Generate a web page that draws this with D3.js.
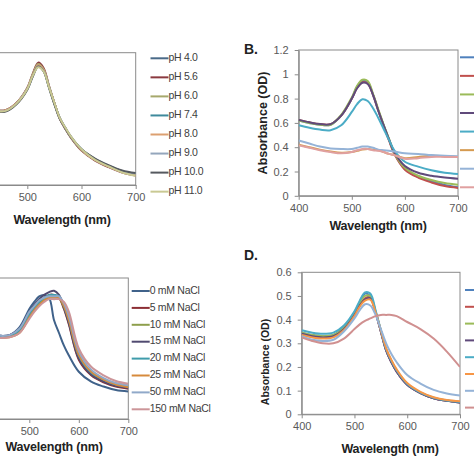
<!DOCTYPE html>
<html>
<head>
<meta charset="utf-8">
<script src="https://cdn.jsdelivr.net/npm/d3@7"></script>
<style>
  html, body { margin: 0; padding: 0; background: #fff; }
  svg { display: block; font-family: "Liberation Sans", Arial, sans-serif; }
</style>
</head>
<body>
<svg id="chart" width="474" height="474"></svg>
<script>
// wavelength grid shared by every spectrum (nm)
const wavelengths = [400, 420, 440, 460, 480, 500, 510, 520, 530, 540, 550, 560, 570, 580, 600, 625, 650, 675, 700];
const xTicks = [400, 500, 600, 700];
// left panels are cropped, their 400 nm label is outside the picture
const xTicksCropped = [500, 600, 700];

// A. pH series
const phLabels = ['pH 4.0', 'pH 5.6', 'pH 6.0', 'pH 7.4', 'pH 8.0', 'pH 9.0', 'pH 10.0', 'pH 11.0'];
const phColors = ['#4a6a88', '#8b3a40', '#a6a86c', '#3e8a9c', '#dca070', '#94a6bc', '#55595f', '#c9c993'];
const phValues = [
  [0.62, 0.59, 0.565, 0.565, 0.62, 0.73, 0.83, 0.91, 0.87, 0.745, 0.62, 0.505, 0.43, 0.365, 0.265, 0.19, 0.14, 0.10, 0.078],
  [0.62, 0.59, 0.565, 0.565, 0.62, 0.735, 0.84, 0.925, 0.885, 0.75, 0.62, 0.50, 0.425, 0.36, 0.26, 0.185, 0.135, 0.095, 0.072],
  [0.62, 0.59, 0.565, 0.56, 0.615, 0.73, 0.835, 0.915, 0.875, 0.745, 0.62, 0.505, 0.43, 0.365, 0.265, 0.19, 0.14, 0.10, 0.08],
  [0.61, 0.585, 0.56, 0.56, 0.615, 0.725, 0.825, 0.90, 0.865, 0.74, 0.615, 0.505, 0.43, 0.365, 0.27, 0.195, 0.145, 0.105, 0.085],
  [0.62, 0.59, 0.565, 0.565, 0.62, 0.73, 0.83, 0.905, 0.87, 0.745, 0.62, 0.505, 0.43, 0.365, 0.265, 0.19, 0.14, 0.10, 0.078],
  [0.615, 0.585, 0.56, 0.56, 0.615, 0.725, 0.82, 0.895, 0.86, 0.74, 0.615, 0.505, 0.435, 0.37, 0.27, 0.195, 0.145, 0.105, 0.085],
  [0.61, 0.58, 0.555, 0.555, 0.61, 0.72, 0.82, 0.895, 0.86, 0.735, 0.61, 0.50, 0.43, 0.365, 0.27, 0.20, 0.15, 0.11, 0.09],
  [0.615, 0.585, 0.56, 0.56, 0.615, 0.725, 0.825, 0.89, 0.86, 0.74, 0.62, 0.505, 0.435, 0.37, 0.27, 0.19, 0.14, 0.095, 0.07]
];

// B. unlabeled series (legend text lies outside the crop)
const bColors = ['#4f81bd', '#c0504d', '#9bbb59', '#604a7b', '#4bacc6', '#d59a50', '#95b3d7', '#e0a0a0'];
const bValues = [
  [0.62, 0.60, 0.585, 0.585, 0.66, 0.80, 0.90, 0.945, 0.935, 0.83, 0.70, 0.58, 0.465, 0.35, 0.22, 0.155, 0.12, 0.09, 0.07],
  [0.625, 0.605, 0.59, 0.59, 0.66, 0.80, 0.89, 0.935, 0.925, 0.83, 0.70, 0.575, 0.455, 0.345, 0.215, 0.15, 0.11, 0.08, 0.065],
  [0.62, 0.60, 0.585, 0.585, 0.665, 0.81, 0.905, 0.955, 0.945, 0.84, 0.71, 0.585, 0.47, 0.355, 0.23, 0.165, 0.13, 0.105, 0.09],
  [0.625, 0.605, 0.59, 0.59, 0.66, 0.80, 0.885, 0.93, 0.92, 0.83, 0.70, 0.58, 0.465, 0.36, 0.245, 0.19, 0.165, 0.15, 0.14],
  [0.58, 0.56, 0.545, 0.54, 0.58, 0.69, 0.755, 0.795, 0.78, 0.72, 0.64, 0.55, 0.46, 0.375, 0.28, 0.24, 0.21, 0.19, 0.18],
  [0.42, 0.40, 0.38, 0.365, 0.355, 0.36, 0.37, 0.38, 0.385, 0.38, 0.375, 0.36, 0.345, 0.335, 0.31, 0.32, 0.33, 0.325, 0.32],
  [0.455, 0.43, 0.405, 0.39, 0.385, 0.385, 0.395, 0.405, 0.405, 0.395, 0.38, 0.375, 0.37, 0.365, 0.35, 0.345, 0.335, 0.33, 0.325],
  [0.415, 0.395, 0.375, 0.36, 0.35, 0.36, 0.375, 0.385, 0.385, 0.375, 0.37, 0.36, 0.345, 0.335, 0.305, 0.31, 0.32, 0.32, 0.32]
];
const bYTicks = [0, 0.2, 0.4, 0.6, 0.8, 1, 1.2];

// C. NaCl series
const naclLabels = ['0 mM NaCl', '5 mM NaCl', '10 mM NaCl', '15 mM NaCl', '20 mM NaCl', '25 mM NaCl', '50 mM NaCl', '150 mM NaCl'];
const naclColors = ['#40628a', '#8c2e34', '#8e9f4c', '#504a70', '#3f9cab', '#d68a3c', '#90a9c9', '#cc9599'];
const naclValues = [
  [0.62, 0.60, 0.59, 0.595, 0.65, 0.78, 0.83, 0.87, 0.88, 0.86, 0.70, 0.61, 0.52, 0.45, 0.335, 0.265, 0.23, 0.205, 0.195],
  [0.60, 0.59, 0.58, 0.59, 0.63, 0.74, 0.79, 0.83, 0.86, 0.88, 0.88, 0.86, 0.78, 0.67, 0.42, 0.31, 0.26, 0.23, 0.215],
  [0.60, 0.59, 0.58, 0.585, 0.62, 0.73, 0.78, 0.82, 0.85, 0.87, 0.87, 0.86, 0.79, 0.69, 0.44, 0.32, 0.27, 0.24, 0.23],
  [0.61, 0.60, 0.59, 0.595, 0.64, 0.76, 0.81, 0.85, 0.88, 0.90, 0.91, 0.88, 0.79, 0.68, 0.43, 0.315, 0.265, 0.235, 0.22],
  [0.60, 0.59, 0.58, 0.59, 0.63, 0.74, 0.79, 0.83, 0.86, 0.88, 0.88, 0.87, 0.80, 0.70, 0.45, 0.33, 0.28, 0.245, 0.235],
  [0.59, 0.58, 0.575, 0.58, 0.61, 0.72, 0.77, 0.81, 0.84, 0.86, 0.86, 0.86, 0.80, 0.70, 0.455, 0.335, 0.28, 0.245, 0.225],
  [0.61, 0.60, 0.59, 0.595, 0.64, 0.76, 0.80, 0.84, 0.86, 0.87, 0.87, 0.87, 0.82, 0.73, 0.48, 0.35, 0.29, 0.255, 0.24],
  [0.59, 0.58, 0.575, 0.58, 0.61, 0.71, 0.76, 0.80, 0.83, 0.85, 0.85, 0.85, 0.83, 0.76, 0.50, 0.37, 0.31, 0.27, 0.25]
];

// D. unlabeled series (legend text lies outside the crop)
const dColors = ['#4f81bd', '#c0504d', '#9bbb59', '#604a7b', '#4bacc6', '#f79646', '#95b3d7', '#d09090'];
const dValues = [
  [0.345, 0.335, 0.33, 0.335, 0.37, 0.43, 0.475, 0.51, 0.50, 0.43, 0.35, 0.27, 0.22, 0.18, 0.125, 0.09, 0.068, 0.057, 0.05],
  [0.34, 0.33, 0.325, 0.33, 0.36, 0.42, 0.46, 0.49, 0.495, 0.43, 0.35, 0.27, 0.22, 0.18, 0.125, 0.09, 0.068, 0.057, 0.05],
  [0.345, 0.335, 0.33, 0.335, 0.365, 0.425, 0.47, 0.50, 0.50, 0.435, 0.355, 0.275, 0.225, 0.185, 0.128, 0.092, 0.07, 0.058, 0.052],
  [0.34, 0.33, 0.325, 0.33, 0.36, 0.42, 0.46, 0.485, 0.49, 0.43, 0.35, 0.27, 0.22, 0.18, 0.125, 0.09, 0.068, 0.057, 0.05],
  [0.355, 0.345, 0.34, 0.345, 0.375, 0.435, 0.48, 0.515, 0.51, 0.44, 0.355, 0.275, 0.225, 0.185, 0.128, 0.092, 0.07, 0.058, 0.052],
  [0.335, 0.325, 0.32, 0.325, 0.355, 0.415, 0.455, 0.48, 0.485, 0.43, 0.355, 0.28, 0.23, 0.19, 0.132, 0.095, 0.072, 0.06, 0.055],
  [0.33, 0.315, 0.31, 0.315, 0.35, 0.405, 0.44, 0.465, 0.46, 0.42, 0.36, 0.30, 0.255, 0.22, 0.166, 0.13, 0.103, 0.088, 0.079],
  [0.325, 0.31, 0.30, 0.30, 0.32, 0.36, 0.38, 0.395, 0.405, 0.415, 0.42, 0.42, 0.42, 0.415, 0.39, 0.36, 0.32, 0.265, 0.20]
];
const dYTicks = [0, 0.1, 0.2, 0.3, 0.4, 0.5, 0.6];

const svg = d3.select('#chart');
const axisGray = '#8a8a8a';
const tickText = '#595959';

function drawPanel(cfg) {
  const g = svg.append('g');
  const x = d3.scaleLinear().domain([400, 700]).range([cfg.x0, cfg.x1]);
  const y = d3.scaleLinear().domain(cfg.yDomain).range([cfg.bottom, cfg.top]);

  // plot frame
  g.append('rect')
    .attr('x', cfg.x0).attr('y', cfg.top)
    .attr('width', cfg.x1 - cfg.x0).attr('height', cfg.bottom - cfg.top)
    .attr('fill', 'none').attr('stroke', axisGray).attr('stroke-width', 1);

  const xAxis = g.append('g')
    .attr('transform', `translate(0,${cfg.bottom})`)
    .call(d3.axisBottom(x).tickValues(cfg.xTicks).tickSize(4).tickSizeOuter(0).tickPadding(4));
  xAxis.select('.domain').attr('stroke', axisGray);
  xAxis.selectAll('line').attr('stroke', axisGray);
  xAxis.selectAll('text').attr('fill', tickText).attr('font-size', 11).attr('font-family', '"Liberation Sans", Arial, sans-serif');

  if (cfg.yTicks) {
    const yAxis = g.append('g')
      .attr('transform', `translate(${cfg.x0},0)`)
      .call(d3.axisLeft(y).tickValues(cfg.yTicks).tickFormat(d3.format('~g')).tickSize(4).tickSizeOuter(0).tickPadding(6));
    yAxis.select('.domain').attr('stroke', axisGray);
    yAxis.selectAll('line').attr('stroke', axisGray);
    yAxis.selectAll('text').attr('fill', tickText).attr('font-size', 11).attr('font-family', '"Liberation Sans", Arial, sans-serif');

    g.append('text')
      .attr('transform', `translate(${cfg.yTitleX},${cfg.yTitleY}) rotate(-90)`)
      .attr('text-anchor', 'middle').attr('dominant-baseline', 'middle')
      .attr('font-weight', 'bold').attr('font-size', cfg.yTitleSize).attr('fill', '#222')
      .text('Absorbance (OD)');
  }

  g.append('text')
    .attr('x', cfg.xTitleX).attr('y', cfg.xTitleY)
    .attr('text-anchor', 'middle')
    .attr('font-weight', 'bold').attr('font-size', 12.5).attr('fill', '#222')
    .attr('letter-spacing', -0.2)
    .text('Wavelength (nm)');

  if (cfg.label) {
    g.append('text')
      .attr('x', cfg.labelX).attr('y', cfg.labelY)
      .attr('font-weight', 'bold').attr('font-size', 14).attr('fill', '#222')
      .text(cfg.label);
  }

  // spectra, clipped to the plot area
  const clipId = 'clip' + cfg.id;
  svg.append('clipPath').attr('id', clipId).append('rect')
    .attr('x', cfg.x0).attr('y', cfg.top)
    .attr('width', cfg.x1 - cfg.x0).attr('height', cfg.bottom - cfg.top);

  const line = d3.line()
    .x((d, i) => x(wavelengths[i]))
    .y(d => y(d))
    .curve(d3.curveCatmullRom.alpha(0.5));

  g.append('g').attr('clip-path', `url(#${clipId})`)
    .selectAll('path').data(cfg.values).join('path')
    .attr('d', line)
    .attr('fill', 'none')
    .attr('stroke', (d, i) => cfg.colors[i])
    .attr('stroke-width', 2)
    .attr('stroke-linejoin', 'round');

  // legend
  const leg = g.append('g');
  cfg.colors.forEach((c, i) => {
    const ly = cfg.legY + i * cfg.legStep;
    leg.append('line')
      .attr('x1', cfg.legX).attr('x2', cfg.legX + 18)
      .attr('y1', ly).attr('y2', ly)
      .attr('stroke', c).attr('stroke-width', 2);
    if (cfg.labels) {
      leg.append('text')
        .attr('x', cfg.legX + 18).attr('y', ly)
        .attr('dominant-baseline', 'middle')
        .attr('font-size', 10.5).attr('fill', '#404040')
        .attr('letter-spacing', -0.3)
        .text(cfg.labels[i]);
    }
  });
}

drawPanel({
  id: 'A', x0: -26.9, x1: 135.7, top: 52.7, bottom: 185, yDomain: [0, 1], xTicks: xTicksCropped,
  values: phValues, colors: phColors, labels: phLabels,
  legX: 150.5, legY: 58.3, legStep: 19.05,
  xTitleX: 62, xTitleY: 224
});

drawPanel({
  id: 'B', x0: 298.7, x1: 458, top: 50, bottom: 195.8, yDomain: [0, 1.2], yTicks: bYTicks, xTicks: xTicks,
  values: bValues, colors: bColors,
  legX: 460, legY: 57.3, legStep: 18.57,
  xTitleX: 378, xTitleY: 229.5,
  yTitleX: 264, yTitleY: 123, yTitleSize: 12.5,
  label: 'B.', labelX: 244, labelY: 54
});

drawPanel({
  id: 'C', x0: -20.2, x1: 128.3, top: 278, bottom: 419, yDomain: [0, 1], xTicks: xTicksCropped,
  values: naclValues, colors: naclColors, labels: naclLabels,
  legX: 131.7, legY: 291, legStep: 16.9,
  xTitleX: 54, xTitleY: 451
});

drawPanel({
  id: 'D', x0: 301.7, x1: 460, top: 272.3, bottom: 414.3, yDomain: [0, 0.6], yTicks: dYTicks, xTicks: xTicks,
  values: dValues, colors: dColors,
  legX: 465, legY: 290, legStep: 16.8,
  xTitleX: 390, xTitleY: 453,
  yTitleX: 266, yTitleY: 362, yTitleSize: 10.5,
  label: 'D.', labelX: 244, labelY: 260
});
</script>
</body>
</html>
